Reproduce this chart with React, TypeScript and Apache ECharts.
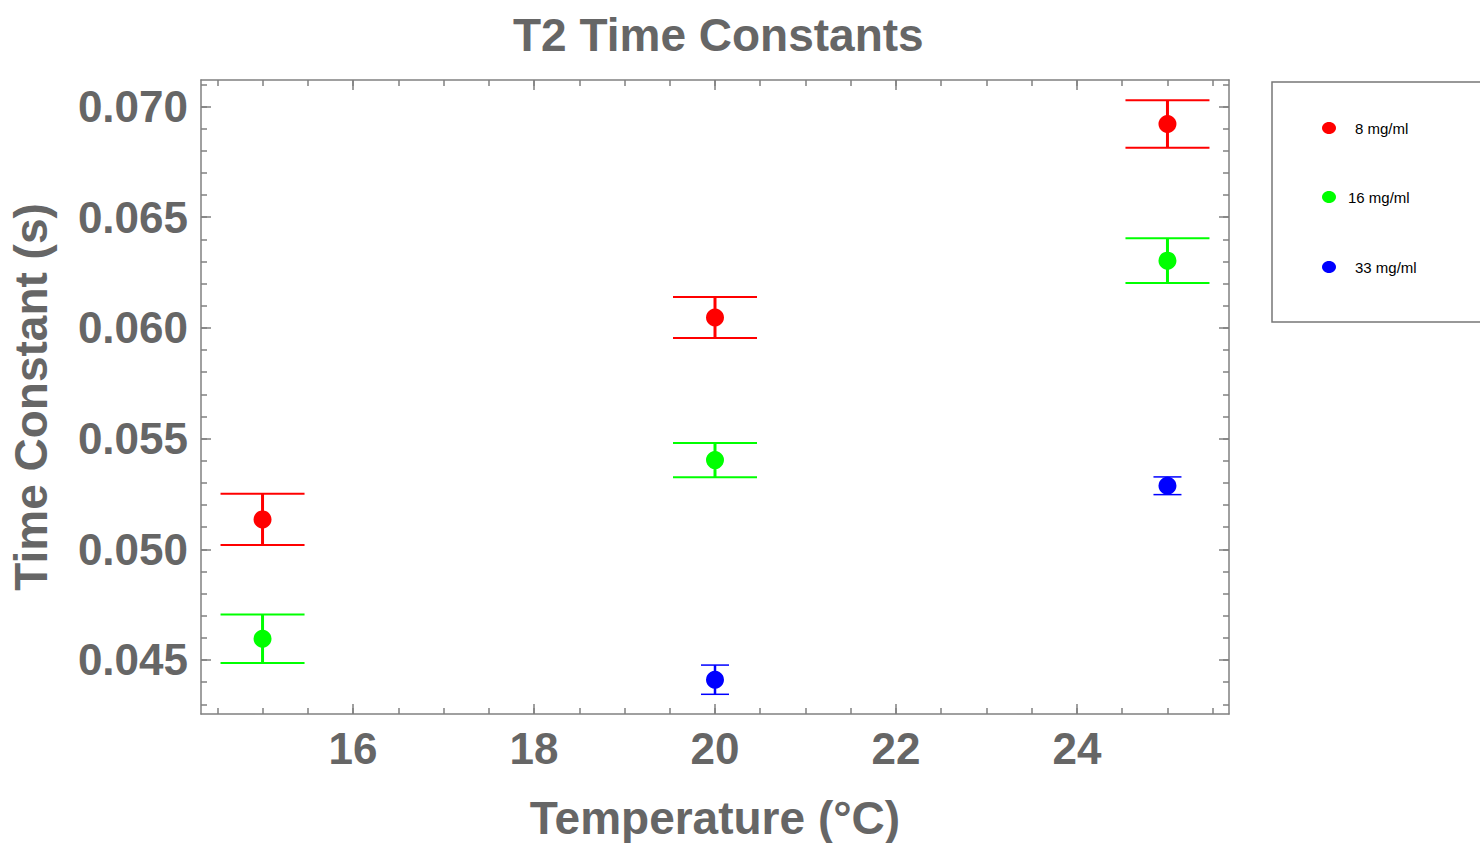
import React, { useEffect, useRef } from "react";
import * as echarts from "echarts";

// ---- data ----
const SERIES_NAMES = ["8 mg/ml", "16 mg/ml", "33 mg/ml"];
const SERIES_COLORS = ["#ff0000", "#00ff00", "#0000ff"];

const TEMPS_8 = [15, 20, 25];
const T2_8 = [0.05135, 0.06047, 0.06921];
const ERR_8 = [0.00116, 0.00093, 0.00107];

const TEMPS_16 = [15, 20, 25];
const T2_16 = [0.04596, 0.05403, 0.06304];
const ERR_16 = [0.0011, 0.00077, 0.00101];

const TEMPS_33 = [20, 25];
const T2_33 = [0.04411, 0.05287];
const ERR_33 = [0.00066, 0.0004];

const X_MAJOR = [16, 18, 20, 22, 24];
const X_MINOR = [
  14.5, 15, 15.5, 16, 16.5, 17, 17.5, 18, 18.5, 19, 19.5, 20, 20.5, 21, 21.5,
  22, 22.5, 23, 23.5, 24, 24.5, 25, 25.5,
];
const Y_MAJOR = [0.045, 0.05, 0.055, 0.06, 0.065, 0.07];
const Y_MINOR = [
  0.043, 0.044, 0.045, 0.046, 0.047, 0.048, 0.049, 0.05, 0.051, 0.052, 0.053,
  0.054, 0.055, 0.056, 0.057, 0.058, 0.059, 0.06, 0.061, 0.062, 0.063, 0.064,
  0.065, 0.066, 0.067, 0.068, 0.069, 0.07, 0.071,
];

const X_MIN = 14.32;
const X_MAX = 25.68;
const Y_MIN = 0.04256;
const Y_MAX = 0.0712;

// ---- style ----
const GRAY_TEXT = "#666666";
const FRAME = "#808080";
const FONT = "'Liberation Sans', Arial, sans-serif";
const CAP_HALF = [42, 42, 14];
const CAP_W = [2, 2, 1.5];
const STEM_W = [3, 3, 2.5];

function App() {
  const ref = useRef<HTMLDivElement>(null);

  useEffect(() => {
    if (!ref.current) return;
    const chart = echarts.init(ref.current, undefined, { renderer: "svg" });

    const groups = [
      { x: TEMPS_8, y: T2_8, e: ERR_8 },
      { x: TEMPS_16, y: T2_16, e: ERR_16 },
      { x: TEMPS_33, y: T2_33, e: ERR_33 },
    ];

    const frameAxisCommon = {
      type: "value",
      splitLine: { show: false },
      axisLine: { show: false, onZero: false },
      axisLabel: { show: false },
    };

    const xAxes: any[] = [];
    const yAxes: any[] = [];
    (["bottom", "top"] as const).forEach((pos, i) => {
      xAxes.push({
        ...frameAxisCommon,
        position: pos,
        min: X_MIN,
        max: X_MAX,
        axisLine: { show: true, onZero: false, lineStyle: { color: FRAME, width: 1.5 } },
        axisTick: {
          show: true,
          inside: true,
          length: 10,
          customValues: X_MAJOR,
          lineStyle: { color: FRAME, width: 1.5 },
        },
        axisLabel:
          i === 0
            ? {
                show: true,
                customValues: X_MAJOR,
                fontSize: 44,
                fontWeight: "bold",
                color: GRAY_TEXT,
                fontFamily: FONT,
                margin: 12,
              }
            : { show: false },
        name: i === 0 ? "Temperature (°C)" : "",
        nameLocation: "middle",
        nameGap: 81,
        nameTextStyle: {
          fontSize: 46,
          fontWeight: "bold",
          color: GRAY_TEXT,
          fontFamily: FONT,
        },
      });
      xAxes.push({
        ...frameAxisCommon,
        position: pos,
        min: X_MIN,
        max: X_MAX,
        axisTick: {
          show: true,
          inside: true,
          length: 6,
          customValues: X_MINOR,
          lineStyle: { color: FRAME, width: 1.5 },
        },
      });
    });
    (["left", "right"] as const).forEach((pos, i) => {
      yAxes.push({
        ...frameAxisCommon,
        position: pos,
        min: Y_MIN,
        max: Y_MAX,
        axisLine: { show: true, onZero: false, lineStyle: { color: FRAME, width: 1.5 } },
        axisTick: {
          show: true,
          inside: true,
          length: 10,
          customValues: Y_MAJOR,
          lineStyle: { color: FRAME, width: 1.5 },
        },
        axisLabel:
          i === 0
            ? {
                show: true,
                customValues: Y_MAJOR,
                formatter: (v: number) => v.toFixed(3),
                fontSize: 44,
                fontWeight: "bold",
                color: GRAY_TEXT,
                fontFamily: FONT,
                margin: 13,
              }
            : { show: false },
        name: i === 0 ? "Time Constant (s)" : "",
        nameLocation: "middle",
        nameGap: 147,
        nameTextStyle: {
          fontSize: 46,
          fontWeight: "bold",
          color: GRAY_TEXT,
          fontFamily: FONT,
        },
      });
      yAxes.push({
        ...frameAxisCommon,
        position: pos,
        min: Y_MIN,
        max: Y_MAX,
        axisTick: {
          show: true,
          inside: true,
          length: 6,
          customValues: Y_MINOR,
          lineStyle: { color: FRAME, width: 1.5 },
        },
      });
    });

    const series: any[] = [];
    groups.forEach((g, si) => {
      const color = SERIES_COLORS[si];
      const data = g.x.map((xv, k) => [xv, g.y[k], g.e[k]]);
      series.push({
        type: "custom",
        name: SERIES_NAMES[si] + " error",
        xAxisIndex: 0,
        yAxisIndex: 0,
        data,
        encode: { x: 0, y: 1 },
        z: 2,
        renderItem: (params: any, api: any) => {
          const x = api.value(0);
          const y = api.value(1);
          const e = api.value(2);
          const top = api.coord([x, y + e]);
          const bot = api.coord([x, y - e]);
          const hw = CAP_HALF[si];
          return {
            type: "group",
            children: [
              {
                type: "line",
                shape: { x1: top[0], y1: top[1], x2: bot[0], y2: bot[1] },
                style: { stroke: color, lineWidth: STEM_W[si] },
              },
              {
                type: "line",
                shape: { x1: top[0] - hw, y1: top[1], x2: top[0] + hw, y2: top[1] },
                style: { stroke: color, lineWidth: CAP_W[si] },
              },
              {
                type: "line",
                shape: { x1: bot[0] - hw, y1: bot[1], x2: bot[0] + hw, y2: bot[1] },
                style: { stroke: color, lineWidth: CAP_W[si] },
              },
            ],
          };
        },
      });
      series.push({
        type: "scatter",
        name: SERIES_NAMES[si],
        xAxisIndex: 0,
        yAxisIndex: 0,
        data: g.x.map((xv, k) => [xv, g.y[k]]),
        symbol: "circle",
        symbolSize: 18,
        itemStyle: { color, opacity: 1 },
        z: 3,
      });
    });

    // legend box drawn with graphic
    const legendY = [128, 197, 267];
    const legendTextX = [1355, 1348, 1355];
    const legendChildren: any[] = [
      {
        type: "rect",
        shape: { x: 1272, y: 82, width: 240, height: 240 },
        style: { fill: "#ffffff", stroke: "#777777", lineWidth: 1.5 },
      },
    ];
    SERIES_NAMES.forEach((n, i) => {
      legendChildren.push({
        type: "ellipse",
        shape: { cx: 1329, cy: legendY[i], rx: 7, ry: 6 },
        style: { fill: SERIES_COLORS[i] },
      });
      legendChildren.push({
        type: "text",
        x: legendTextX[i],
        y: legendY[i],
        style: {
          text: n,
          fill: "#000000",
          fontSize: 15,
          fontFamily: FONT,
          verticalAlign: "middle",
          align: "left",
        },
      });
    });

    chart.setOption({
      animation: false,
      backgroundColor: "#ffffff",
      textStyle: { fontFamily: FONT },
      title: {
        text: "T2 Time Constants",
        left: 508,
        top: 7,
        textStyle: {
          fontSize: 46,
          fontWeight: "bold",
          color: GRAY_TEXT,
          fontFamily: FONT,
        },
      },
      grid: {
        left: 201,
        right: 251,
        top: 80,
        bottom: 129,
        containLabel: false,
        outerBoundsMode: "none",
      },
      xAxis: xAxes,
      yAxis: yAxes,
      series,
      graphic: legendChildren,
    });

    return () => chart.dispose();
  }, []);

  return (
    <div
      ref={ref}
      style={{ position: "fixed", left: 0, top: 0, width: 1480, height: 843 }}
    />
  );
}

export default App;
